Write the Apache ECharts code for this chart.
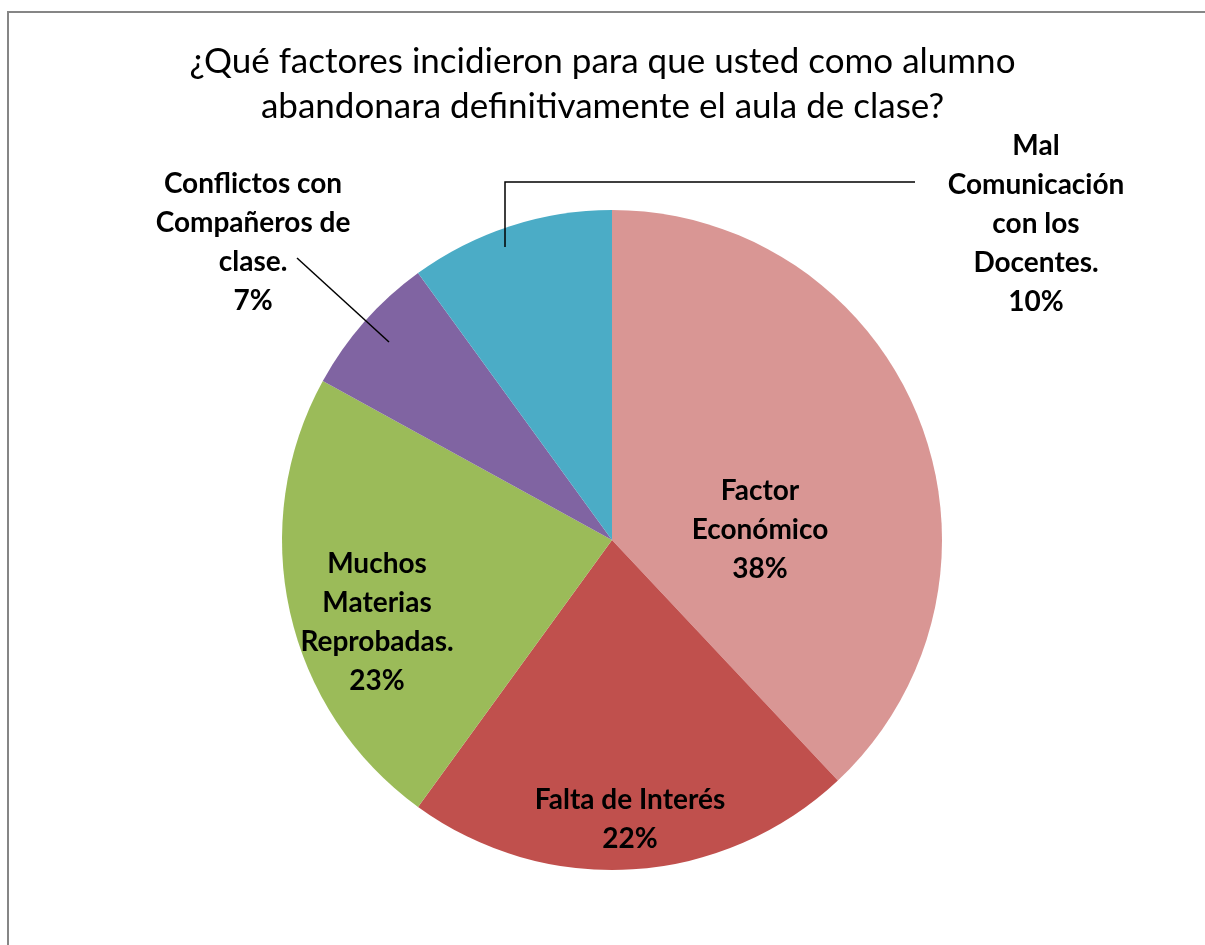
<!DOCTYPE html>
<html>
<head>
<meta charset="utf-8">
<script src="https://cdn.jsdelivr.net/npm/echarts@6/dist/echarts.min.js"></script>
<style>
  html, body { margin: 0; padding: 0; background: #fff; }
  #main { width: 1205px; height: 945px; }
</style>
</head>
<body>
<div id="main"></div>
<script>
var myChart = echarts.init(document.getElementById('main'));

var categories = ['Factor\nEconómico', 'Falta de Interés', 'Muchos\nMaterias\nReprobadas.', 'Conflictos con\nCompañeros de\nclase.', 'Mal\nComunicación\ncon los\nDocentes.'];
var values = [38, 22, 23, 7, 10];
var colors = ['#D99694', '#C0504D', '#9BBB59', '#8064A2', '#4BACC6'];

// where each label sits (centre of text block) and leader lines for the outer ones
var labelPos = [[760, 530], [630, 819], [377, 622], [253, 242], [1036, 224]];
var leaders = [null, null, null,
	[[389, 342], [297, 258]],
	[[505, 247], [505, 182], [915, 182]]];

var pieData = [];
for (var i = 0; i < values.length; i++) {
	pieData.push({
		name: categories[i],
		value: values[i],
		itemStyle: { color: colors[i] }
	});
}

// leader lines drawn on top of the slices (they reach into the pie)
var graphics = [{
	type: 'rect',
	shape: { x: 8, y: 12, width: 1220, height: 960 },
	style: { fill: 'none', stroke: '#868686', lineWidth: 2 },
	silent: true
}];
leaders.forEach(function (pts) {
	if (!pts) return;
	graphics.push({
		type: 'polyline',
		z: 100,
		shape: { points: pts },
		style: { fill: 'none', stroke: '#000', lineWidth: 1.5 },
		silent: true
	});
});

var option = {
	animation: false,
	title: {
		text: '¿Qué factores incidieron para que usted como alumno\nabandonara definitivamente el aula de clase?',
		left: 'center',
		top: 34,
		textStyle: {
			fontFamily: 'Lato',
			fontWeight: 'normal',
			fontSize: 35,
			lineHeight: 45,
			color: '#000'
		}
	},
	graphic: graphics,
	series: [{
		type: 'pie',
		center: [612, 540],
		radius: 330,
		startAngle: 90,
		clockwise: true,
		data: pieData,
		label: {
			show: true,
			formatter: '{b}\n{d}%',
			fontFamily: 'Lato',
			fontWeight: 'bold',
			fontSize: 28,
			lineHeight: 39,
			color: '#000',
			align: 'center'
		},
		labelLine: { show: false },
		labelLayout: function (params) {
			var p = labelPos[params.dataIndex];
			return {
				x: p[0],
				y: p[1],
				align: 'center',
				verticalAlign: 'middle'
			};
		}
	}]
};

myChart.setOption(option);
</script>
</body>
</html>
